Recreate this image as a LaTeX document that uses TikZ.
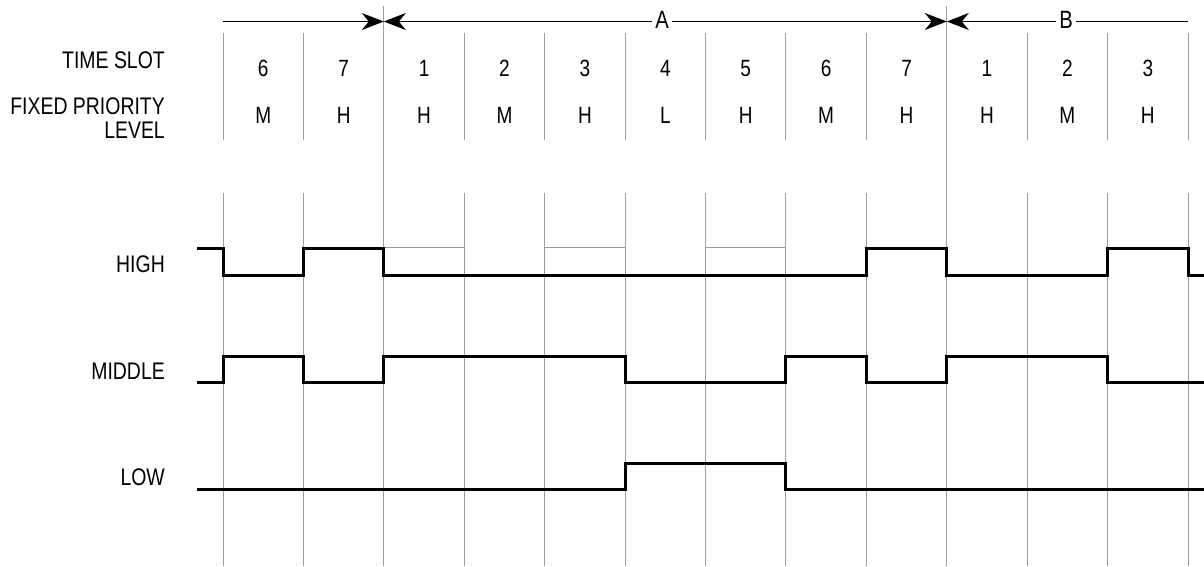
\documentclass[tikz,border=0pt]{standalone}
\usepackage{fontspec}
\setmainfont{Liberation Sans}[FakeStretch=0.81]
\usetikzlibrary{arrows.meta}
\tikzset{
  grid/.style={draw=black!38, line width=1pt},
  ghost/.style={draw=black!40, line width=1pt},
  sig/.style={draw=black, line width=3pt, line join=miter},
  dim/.style={draw=black, line width=1.5pt},
  lbl/.style={anchor=base east, inner sep=0pt, font=\fontsize{24}{28}\selectfont},
  cell/.style={anchor=base, inner sep=0pt, font=\fontsize{23.5}{28}\selectfont},
  tag/.style={anchor=base, fill=white, inner xsep=3pt, inner ysep=1pt, font=\fontsize{25}{28}\selectfont},
}
\begin{document}
\begin{tikzpicture}[x=1pt,y=-1pt]
\useasboundingbox (0,0) rectangle (1204,566);
% grid lines
\foreach \k in {0,1,3,4,5,6,7,8,10,11,12}{
  \draw[grid] ({223+80.42*\k},33) -- ({223+80.42*\k},140);
  \draw[grid] ({223+80.42*\k},193) -- ({223+80.42*\k},566);
}
\foreach \k in {2,9}{
  \draw[grid] ({223+80.42*\k},6) -- ({223+80.42*\k},566);
}
% named coordinates for the dimension arrows
\coordinate (s0) at (223,21.5);
\coordinate (s2) at (383.8,21.5);
\coordinate (s9) at (946.8,21.5);
\coordinate (s12) at (1188,21.5);
\draw[dim, -{Stealth[length=22pt,width=17pt,inset=7pt]}] (s0) -- (s2);
\draw[dim, {Stealth[length=22pt,width=17pt,inset=7pt]}-{Stealth[length=22pt,width=17pt,inset=7pt]}] (s2) -- (s9);
\draw[dim, {Stealth[length=22pt,width=17pt,inset=7pt]}-] (s9) -- (s12);
\node[tag] (A) at (662,28.5) {A};
\node[tag] (B) at (1066,28.5) {B};
% left labels
\node[lbl] (ts) at (165,68.5) {TIME SLOT};
\node[lbl] (fp) at (165,114) {FIXED PRIORITY};
\node[lbl] (lv) at (165,138) {LEVEL};
\node[lbl] (hi) at (165,272) {HIGH};
\node[lbl] (mi) at (165,379) {MIDDLE};
\node[lbl] (lo) at (165,485) {LOW};
% table cells
\foreach \n [count=\i from 0] in {6,7,1,2,3,4,5,6,7,1,2,3}{
  \node[cell] (n\i) at ({223+80.42*(\i+0.5)},76.7) {\n};
}
\foreach \p [count=\i from 0] in {M,H,H,M,H,L,H,M,H,H,M,H}{
  \node[cell] (p\i) at ({223+80.42*(\i+0.5)},123.3) {\p};
}
% ghost pulses on HIGH
\draw[ghost] (383.8,275) -- (383.8,247) -- (464.2,247) -- (464.2,275);
\draw[ghost] (544.7,275) -- (544.7,247) -- (625.1,247) -- (625.1,275);
\draw[ghost] (705.5,275) -- (705.5,247) -- (785.9,247) -- (785.9,275);
% signals
\draw[sig] (197,248) -- (223,248) -- (223,275) -- (303.4,275) -- (303.4,248)
  -- (383.8,248) -- (383.8,275) -- (866.4,275) -- (866.4,248) -- (946.8,248)
  -- (946.8,275) -- (1107.6,275) -- (1107.6,248) -- (1188,248) -- (1188,275) -- (1204,275);
\draw[sig] (197,382) -- (223,382) -- (223,356) -- (303.4,356) -- (303.4,382)
  -- (383.8,382) -- (383.8,356) -- (625.1,356) -- (625.1,382) -- (785.9,382)
  -- (785.9,356) -- (866.4,356) -- (866.4,382) -- (946.8,382) -- (946.8,356)
  -- (1107.6,356) -- (1107.6,382) -- (1204,382);
\draw[sig] (197,489) -- (625.1,489) -- (625.1,463) -- (785.9,463) -- (785.9,489) -- (1204,489);
\end{tikzpicture}
\end{document}
